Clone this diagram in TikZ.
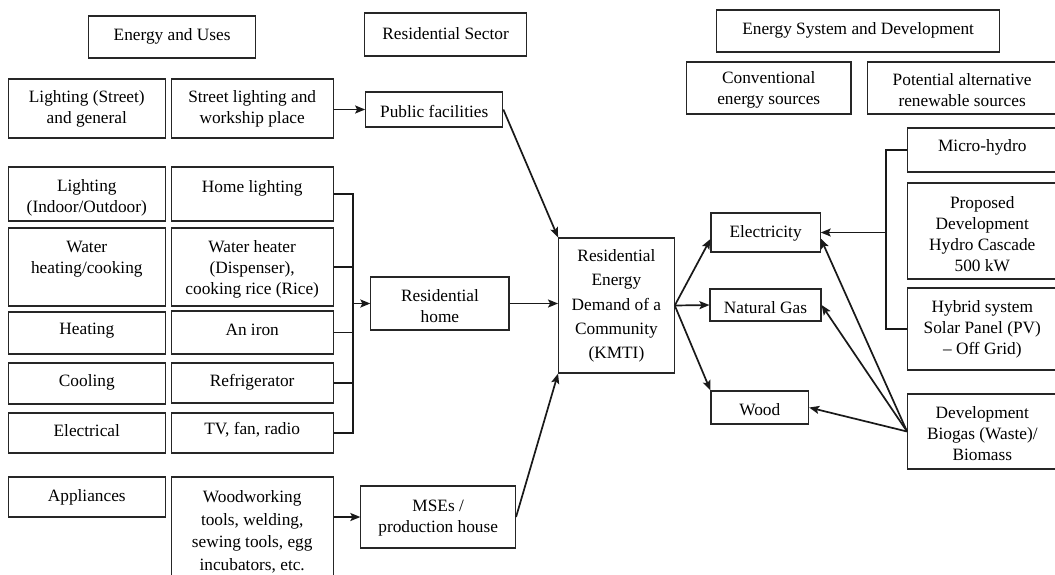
\documentclass[tikz,border=0pt]{standalone}
\usepackage{fontspec}
\setmainfont{Liberation Serif}
\usetikzlibrary{arrows.meta,calc}
\tikzset{
  boxst/.style={draw=black!85, line width=1.1pt, inner sep=0pt, rectangle},
  txt/.style={align=center, inner sep=0pt, font=\fontsize{17.3}{21}\selectfont, text=black},
  conn/.style={line width=1.7pt, draw=black!90},
  arr/.style={conn, -{Stealth[length=10pt,width=8pt,inset=2pt]}},
}
\newcommand\bx[8][]{%
  \node[boxst, minimum width={(#5)-(#3)}, minimum height={(#6)-(#4)}] (#2) at ({((#3)+(#5))/2},{((#4)+(#6))/2}) {};
  \node[txt,#1] (#2-t) at ({((#3)+(#5))/2},#7) {#8};}
\begin{document}
\begin{tikzpicture}[x=1pt,y=-1pt]
\useasboundingbox (0,0) rectangle (1055,574);
\fill[white] (0,0) rectangle (1055,574);
\clip (0,0) rectangle (1055,574);
% headers
\bx{hdA}{88.8}{16}{255.5}{58}{36}{Energy and Uses}
\bx{hdB}{364.3}{13}{526.9}{56}{34}{Residential Sector}
\bx{hdC}{716.9}{10}{999.4}{52}{30}{Energy System and Development}
\bx{conv}{686.5}{62}{851}{114}{90}{Conventional\\energy sources}
\bx{pot}{867.3}{62}{1057}{114}{90}{Potential alternative\\renewable sources}
% left columns
\bx{lst}{8.3}{79}{165.3}{138}{109}{Lighting (Street)\\and general}
\bx{sl}{171.1}{79}{333.3}{138}{109}{Street lighting and\\workship place}
\bx{pf}{365.7}{92}{502.8}{127}{111}{Public facilities}
\bx{lio}{8.3}{167}{165.3}{221}{198}{Lighting\\(Indoor/Outdoor)}
\bx{hl}{171.1}{167}{333.3}{221}{188}{Home lighting}
\bx{whc}{8.3}{228}{165.3}{306}{259}{Water\\heating/cooking}
\bx{wh}{171.1}{228}{333.3}{306}{269}{Water heater\\(Dispenser),\\cooking rice (Rice)}
\bx{heat}{8.3}{312}{165.3}{354}{331}{Heating}
\bx{iron}{171.1}{311}{333.3}{354}{330}{An iron}
\bx{cool}{8.3}{363}{165.3}{404}{382}{Cooling}
\bx{ref}{171.1}{363}{333.3}{403}{382}{Refrigerator}
\bx{elec}{8.3}{413}{165.3}{453}{431}{Electrical}
\bx{tv}{171.1}{413}{333.3}{453}{430}{TV, fan, radio}
\bx{app}{8.3}{477}{165.3}{517}{497}{Appliances}
\bx[font=\fontsize{17.3}{22.5}\selectfont]{ww}{171.1}{477}{333.3}{590}{532}{Woodworking\\tools, welding,\\sewing tools, egg\\incubators, etc.}
\bx{mse}{360.9}{486}{515.5}{548}{518}{MSEs /\\production house}
\bx{rh}{370.9}{277}{509}{330}{306}{Residential\\home}
% centre
\bx[font=\fontsize{17.3}{24.3}\selectfont]{km}{558.6}{238}{674.2}{373}{306}{Residential\\Energy\\Demand of a\\Community\\(KMTI)}
\bx{el}{711}{213}{820.2}{252}{233}{Electricity}
\bx{ng}{710}{289}{821}{321}{308}{Natural Gas}
\bx{wd}{711}{391}{808.6}{424}{410}{Wood}
% right
\bx{mh}{907.6}{128}{1057}{172}{147}{Micro-hydro}
\bx{phc}{907.6}{183}{1057}{279}{234}{Proposed\\Development\\Hydro Cascade\\500 kW}
\bx{hyb}{907.6}{288}{1057}{370}{329}{Hybrid system\\Solar Panel (PV)\\– Off Grid)}
\bx{bio}{907.6}{394}{1057}{469}{434}{Development\\Biogas (Waste)/\\Biomass}
% connectors left
\coordinate (bk) at (353,303.5);
\draw[conn] (hl.east) -- (hl.east -| bk) -- (tv.east -| bk) -- (tv.east);
\foreach \n in {wh,iron,ref} \draw[conn] (\n.east) -- (\n.east -| bk);
\draw[arr] (bk) -- (rh.west);
\draw[arr] (sl.east |- pf.west) -- (pf.west);
\draw[arr] (pf.east) -- (km.north west);
\draw[arr] (rh.east) -- (rh.east -| km.west);
\draw[arr] (ww.east |- mse.west) -- (mse.west);
\draw[arr] (mse.east) -- (km.south west);
% connectors right
\draw[arr] (km.east) -- ([yshift=-6.5pt]el.west);
\draw[arr] (km.east) -- (ng.west);
\draw[arr] (km.east) -- (wd.north west);
\coordinate (rb) at (886,232.5);
\draw[conn] (mh.west) -- (mh.west -| rb) -- (hyb.west -| rb) -- (hyb.west);
\draw[arr] (rb) -- (el.east);
\draw[arr] (bio.west) -- ([yshift=-6pt]el.east);
\draw[arr] (bio.west) -- (ng.east);
\draw[arr] (bio.west) -- (wd.east);
\end{tikzpicture}
\end{document}
